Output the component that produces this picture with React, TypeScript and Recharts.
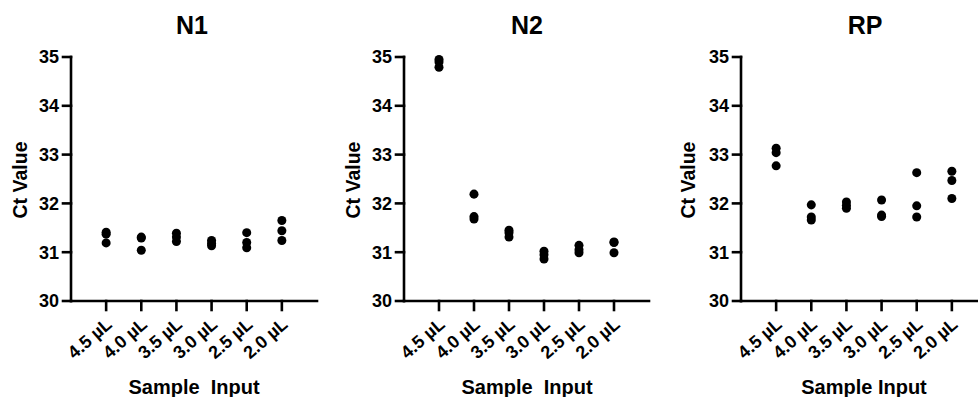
import React from "react";
import { Scatter, ScatterChart, XAxis, YAxis, ZAxis } from "recharts";

// Ct values, three replicates per sample input
const CATEGORIES = ["4.5 µL", "4.0 µL", "3.5 µL", "3.0 µL", "2.5 µL", "2.0 µL"];
const Y_TICKS = [30, 31, 32, 33, 34, 35];

const N1 = [
  [31.41, 31.37, 31.19],
  [31.31, 31.29, 31.04],
  [31.39, 31.31, 31.22],
  [31.24, 31.18, 31.13],
  [31.4, 31.2, 31.09],
  [31.65, 31.44, 31.24],
];
const N2 = [
  [34.95, 34.9, 34.79],
  [32.19, 31.73, 31.68],
  [31.45, 31.4, 31.31],
  [31.02, 30.95, 30.86],
  [31.14, 31.05, 30.99],
  [31.21, 31.2, 30.99],
];
const RP = [
  [33.13, 33.04, 32.77],
  [31.97, 31.72, 31.66],
  [32.03, 31.96, 31.9],
  [32.07, 31.76, 31.73],
  [32.63, 31.95, 31.72],
  [32.66, 32.47, 32.1],
];

const FONT = "'Liberation Sans', Arial, Helvetica, sans-serif";
const AXIS = { stroke: "#000", strokeWidth: 2.6, strokeLinecap: "square" as const };

function toPoints(groups: number[][]) {
  return groups.flatMap((vals, i) => vals.map((v) => ({ x: i + 1, y: v })));
}

function XTick(props: any) {
  const { x, y, payload } = props;
  const ax = x + 7;
  const ay = y + 16;
  return (
    <text
      x={ax}
      y={ay}
      textAnchor="end"
      fontSize={18}
      fontWeight="bold"
      fill="#000"
      transform={`rotate(-41 ${ax} ${ay})`}
    >
      {CATEGORIES[payload.value - 1]}
    </text>
  );
}

function Panel({
  left,
  width,
  axisWidth,
  right,
  values,
}: {
  left: number;
  width: number;
  axisWidth: number;
  right: number;
  values: number[][];
}) {
  return (
    <div style={{ position: "absolute", left, top: 0 }}>
      <ScatterChart
        width={width}
        height={397}
        margin={{ top: 57, right, bottom: 0, left: 0 }}
      >
        <XAxis
          type="number"
          dataKey="x"
          domain={[0, 7]}
          ticks={[1, 2, 3, 4, 5, 6]}
          height={96}
          axisLine={AXIS}
          tickLine={AXIS}
          tickSize={9}
          tickMargin={0}
          tick={<XTick />}
          interval={0}
        />
        <YAxis
          type="number"
          dataKey="y"
          domain={[30, 35]}
          ticks={Y_TICKS}
          width={axisWidth}
          axisLine={AXIS}
          tickLine={AXIS}
          tickSize={8}
          tickMargin={4}
          tick={{ fontSize: 18, fontWeight: "bold", fill: "#000" }}
          interval={0}
        />
        <ZAxis range={[90, 90]} />
        <Scatter
          data={toPoints(values)}
          fill="#000"
          isAnimationActive={false}
        />
      </ScatterChart>
    </div>
  );
}

export default function App() {
  const labels = [
    { title: "N1", tx: 192, yl: 27, xl: 194, xText: "Sample  Input" },
    { title: "N2", tx: 527, yl: 360, xl: 527, xText: "Sample  Input" },
    { title: "RP", tx: 865, yl: 695, xl: 864, xText: "Sample Input" },
  ];
  return (
    <div
      style={{
        position: "absolute",
        left: 0,
        top: 0,
        width: 978,
        height: 397,
        overflow: "hidden",
        background: "#fff",
        fontFamily: FONT,
      }}
    >
      <Panel left={0} width={330} axisWidth={71} right={13} values={N1} />
      <Panel left={330} width={330} axisWidth={74} right={11} values={N2} />
      <Panel left={650} width={340} axisWidth={91} right={3} values={RP} />
      <svg
        width={978}
        height={397}
        style={{ position: "absolute", left: 0, top: 0, pointerEvents: "none" }}
      >
        {labels.map((l) => (
          <g key={l.title} fontFamily={FONT} fontWeight="bold" fill="#000">
            <text x={l.tx} y={34} textAnchor="middle" fontSize={25}>
              {l.title}
            </text>
            <text
              x={l.yl}
              y={180}
              textAnchor="middle"
              fontSize={19.5}
              transform={`rotate(-90 ${l.yl} 180)`}
            >
              Ct Value
            </text>
            <text
              x={l.xl}
              y={394}
              textAnchor="middle"
              fontSize={20}
              style={{ whiteSpace: "pre" }}
            >
              {l.xText}
            </text>
          </g>
        ))}
      </svg>
    </div>
  );
}
